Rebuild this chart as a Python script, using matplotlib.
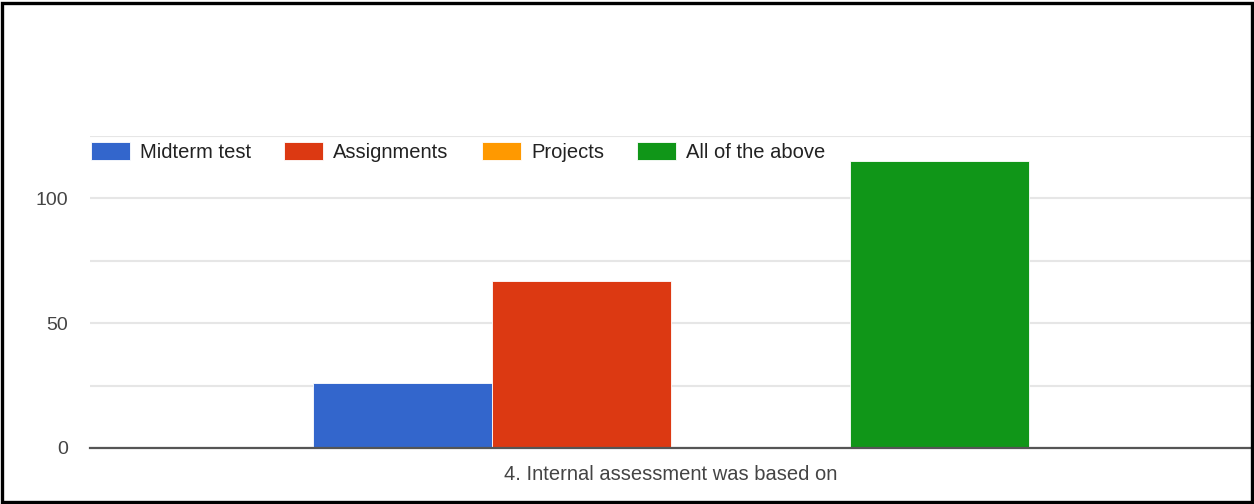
import matplotlib
matplotlib.use("Agg")
import matplotlib.pyplot as plt
from matplotlib.patches import Rectangle

categories = ["4. Internal assessment was based on"]
series_names = ["Midterm test", "Assignments", "Projects", "All of the above"]
series_values = [26, 67, 0, 115]
colors = ["#3366cc", "#dc3912", "#ff9900", "#109618"]
y_ticks = [0, 50, 100]

plt.rcParams['font.family'] = ['Liberation Sans', 'DejaVu Sans']

W, H = 1254, 504
fig = plt.figure(figsize=(W / 100, H / 100), dpi=100)
ax = fig.add_axes([90 / W, 1 - 448 / H, (1252 - 90) / W, (448 - 136) / H])

bar_w = 0.154
n = len(series_names)
handles = []
for i, (name, val, c) in enumerate(zip(series_names, series_values, colors)):
    x = 0 + (i - (n - 1) / 2) * bar_w
    b = ax.bar(x, val, width=bar_w, color=c, label=name, zorder=3,
               edgecolor='white', linewidth=0.6)
    handles.append(b)

ax.set_xlim(-0.5, 0.5)
ax.set_ylim(0, 125)
ax.set_yticks(y_ticks)
ax.set_yticks([25, 75, 125], minor=True)
ax.set_yticklabels([str(t) for t in y_ticks], color='#444444', fontsize=14)
ax.tick_params(axis='y', which='both', length=0, pad=16)
ax.grid(axis='y', which='both', color='#e6e6e6', linewidth=1.5, zorder=0)
ax.set_xticks([0])
ax.set_xticklabels(categories, color='#444444', fontsize=14.5)
ax.tick_params(axis='x', length=0, pad=12)
for s in ['top', 'right', 'left']:
    ax.spines[s].set_visible(False)
ax.spines['bottom'].set_color('#555555')
ax.spines['bottom'].set_linewidth(1.6)
ax.spines['bottom'].set_zorder(4)

fs = 14.5
leg = fig.legend(handles=handles, labels=series_names, loc='center left',
                 bbox_to_anchor=(91 / W, 1 - 152 / H), ncol=4, frameon=False,
                 fontsize=fs, handlelength=1.94, handleheight=1.0,
                 handletextpad=0.5, columnspacing=1.64, borderpad=0,
                 borderaxespad=0)
for t in leg.get_texts():
    t.set_color('#222222')

fig.patches.append(Rectangle((2 / W, 2 / H), (W - 4) / W, (H - 5) / H,
                             transform=fig.transFigure, fill=False,
                             edgecolor='black', linewidth=2.4))

fig.savefig('out.png', dpi=100, facecolor='white')
